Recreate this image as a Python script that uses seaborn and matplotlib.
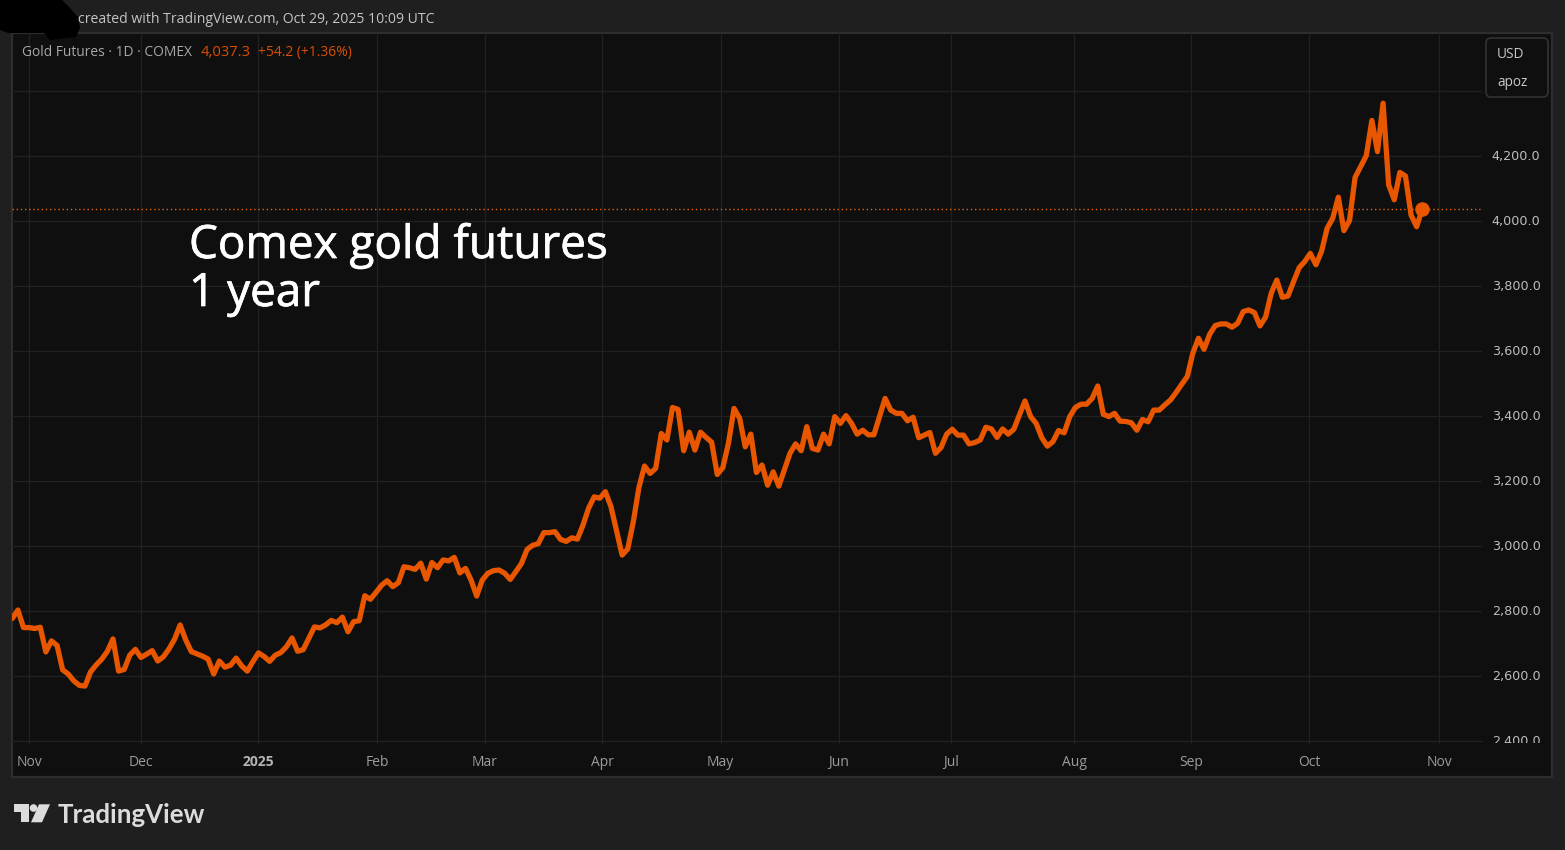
import numpy as np
import pandas as pd
import matplotlib
matplotlib.use("Agg")
import matplotlib.pyplot as plt
import matplotlib.patheffects as pe
from matplotlib.patches import Polygon, Circle, FancyBboxPatch, Rectangle
from matplotlib.transforms import ScaledTranslation
import seaborn as sns

close_nov_jan = [2777, 2803, 2749, 2749, 2746, 2750, 2674, 2708, 2694, 2619, 2606, 2585, 2571, 2569,
                 2613, 2634, 2652, 2676, 2714, 2615, 2620, 2664, 2682, 2657, 2667, 2678, 2646, 2659,
                 2683, 2713, 2757, 2711, 2675, 2668, 2661, 2652, 2606, 2646, 2627, 2633, 2655, 2631,
                 2615, 2644, 2671, 2660, 2645, 2664, 2672, 2690, 2717, 2676, 2681, 2716, 2751, 2748,
                 2757, 2771, 2764, 2781, 2736, 2767, 2770, 2847, 2836, 2857, 2879, 2893, 2875, 2887]
close_feb_may = [2936, 2933, 2928, 2947, 2898, 2949, 2933, 2957, 2954, 2965, 2917, 2931, 2895, 2846,
                 2895, 2916, 2924, 2926, 2916, 2897, 2921, 2946, 2989, 3002, 3007, 3041, 3041, 3044,
                 3020, 3014, 3025, 3021, 3064, 3116, 3151, 3147, 3167, 3121, 3047, 2972, 2991, 3075,
                 3180, 3246, 3223, 3239, 3346, 3326, 3426, 3420, 3293, 3350, 3295, 3350, 3334, 3319,
                 3220, 3241, 3316, 3423, 3393, 3305, 3344, 3226, 3249, 3187, 3228, 3184, 3234, 3285, 3314]
close_jun_aug = [3293, 3367, 3300, 3295, 3344, 3314, 3398, 3377, 3401, 3377, 3344, 3356, 3342, 3342,
                 3398, 3454, 3418, 3408, 3408, 3385, 3396, 3333, 3341, 3349, 3285, 3303, 3344, 3359,
                 3341, 3341, 3314, 3318, 3326, 3365, 3360, 3334, 3360, 3344, 3359, 3403, 3446, 3398,
                 3377, 3333, 3307, 3321, 3355, 3348, 3398, 3426, 3436, 3436, 3454, 3492, 3405, 3398,
                 3408, 3384, 3383, 3379, 3356, 3389, 3382, 3418, 3418, 3434, 3449, 3472, 3497]
close_sep_oct = [3521, 3593, 3639, 3605, 3651, 3678, 3683, 3683, 3673, 3685, 3721, 3726, 3718, 3677,
                 3704, 3777, 3818, 3765, 3769, 3813, 3856, 3875, 3900, 3865, 3906, 3977, 4008, 4073,
                 3970, 4001, 4134, 4167, 4201, 4309, 4213, 4362, 4111, 4065, 4149, 4138, 4018, 3982, 4037.3]
month_labels = ["Nov", "Dec", "2025", "Feb", "Mar", "Apr", "May", "Jun", "Jul", "Aug", "Sep", "Oct", "Nov"]
month_sessions = [3, 23, 44.0, 65.2, 84.4, 105.4, 126.6, 147.7, 167.7, 189.8, 210.7, 231.8, 255.0]
price_ticks = [2400, 2600, 2800, 3000, 3200, 3400, 3600, 3800, 4000, 4200, 4400]
last_price = 4037.3

close = close_nov_jan + close_feb_may + close_jun_aug + close_sep_oct
df = pd.DataFrame({"session": np.arange(len(close)), "close": close})

BG, PANEL, BORDER, GRID = "#1f1f1f", "#0f0f0f", "#2e2e2e", "#212121"
ORANGE = "#e85600"
sns.set_theme(style="dark")
plt.rcParams["font.family"] = ["Open Sans", "DejaVu Sans"]

W, H = 1565, 850
fig = plt.figure(figsize=(W / 100, H / 100), dpi=100, facecolor=BG)

def rect(l, t, r, b):
    return [l / W, 1 - b / H, (r - l) / W, (b - t) / H]

under = fig.add_axes([0, 0, 1, 1], zorder=0)
under.set_xlim(0, W); under.set_ylim(H, 0); under.axis("off")
under.add_patch(Rectangle((12, 33), 1540, 744, fc=PANEL, ec=BORDER, lw=1.6))

ax = fig.add_axes(rect(12, 33, 1482, 741), zorder=1)
ax.patch.set_alpha(0)
sns.lineplot(data=df, x="session", y="close", ax=ax, color=ORANGE, lw=3.8, zorder=3,
             solid_joinstyle="round", solid_capstyle="round", errorbar=None)
ax.axhline(last_price, color="#f06a10", lw=1.0, ls=(0, (1, 2.0)), alpha=0.95, zorder=2)
ax.plot([df["session"].iloc[-1]], [last_price], "o", color=ORANGE, ms=10.5, mew=0, zorder=4)

step = 5.595
ax.set_xlim(-0.05, (1482 - 12.3) / step)
ax.set_ylim(2400, 4578)
ax.set_xlabel(""); ax.set_ylabel("")
ax.set_xticks(month_sessions, month_labels)
ax.set_yticks(price_ticks, [f"{p:,.1f}" if p != 4400 else "" for p in price_ticks])
ax.yaxis.tick_right()
ax.grid(True, color=GRID, lw=0.9)
for s in ax.spines.values():
    s.set_visible(False)
ax.spines["bottom"].set_visible(True); ax.spines["bottom"].set_color(GRID); ax.spines["bottom"].set_linewidth(0.9)
ax.tick_params(axis="y", length=0, pad=7, labelsize=9.2, labelcolor="#bdbdbd")
ax.tick_params(axis="x", length=2, width=0.8, color=GRID, pad=16, labelsize=10, labelcolor="#9c9c9c", bottom=True)
nudge = ScaledTranslation(0, 1 / 100, fig.dpi_scale_trans)
for lab in ax.get_yticklabels():
    lab.set_family("DejaVu Sans")
    lab.set_va("center_baseline")
    lab.set_transform(lab.get_transform() + nudge)
for lab in ax.get_xticklabels():
    lab.set_va("baseline")
    if lab.get_text() == "2025":
        lab.set_fontweight("bold"); lab.set_color("#b4b4b4")

top = fig.add_axes([0, 0, 1, 1], zorder=2)
top.set_xlim(0, W); top.set_ylim(H, 0); top.axis("off")
top.add_patch(Rectangle((1485, 743), 64, 30, fc=PANEL, ec="none"))

# hand-drawn redaction scribble
top.add_patch(Polygon([(0, 0), (62, 0), (70, 8), (78, 17), (80, 28), (76, 37), (50, 40), (44, 33), (8, 33), (0, 30)],
                      fc="#000000", ec="none"))

top.text(78, 19.5, "created with TradingView.com, Oct 29, 2025 10:09 UTC", color="#c4c4c4", fontsize=10.1, va="center")
top.text(22, 52.5, "Gold Futures · 1D · COMEX", color="#a8a8a8", fontsize=9.95, va="center")
top.text(201, 52.5, "4,037.3", color="#d84f00", fontsize=10.6, va="center")
top.text(258, 52.5, "+54.2 (+1.36%)", color="#d84f00", fontsize=10.0, va="center")

thick = [pe.withStroke(linewidth=0.5, foreground="#ffffff")]
top.text(189, 258, "Comex gold futures", color="#ffffff", fontsize=33, va="baseline", path_effects=thick)
top.text(189, 306, "1 year", color="#ffffff", fontsize=33, va="baseline", path_effects=thick)

top.add_patch(FancyBboxPatch((1489, 41), 56, 53, boxstyle="round,pad=3,rounding_size=5", fc=PANEL, ec="#333333", lw=1.2))
top.text(1497, 54.5, "USD", color="#c8c8c8", fontsize=9.8, va="center")
top.text(1497, 82.5, "apoz", color="#c8c8c8", fontsize=9.8, va="center")

LOGO = "#dcdcdc"
top.add_patch(Polygon([(14.3, 804.3), (29, 804.3), (29, 822.3), (21, 822.3), (21, 811.7), (14.3, 811.7)], fc=LOGO, ec="none"))
top.add_patch(Circle((33.5, 808), 3.8, fc=LOGO, ec="none"))
top.add_patch(Polygon([(39, 804.3), (50, 804.3), (42, 822.3), (31, 822.3)], fc=LOGO, ec="none"))
top.text(58, 823, "TradingView", color=LOGO, fontsize=18.6, fontweight="bold", family="Lato", va="baseline")

fig.savefig("out.png", dpi=100, facecolor=BG)
